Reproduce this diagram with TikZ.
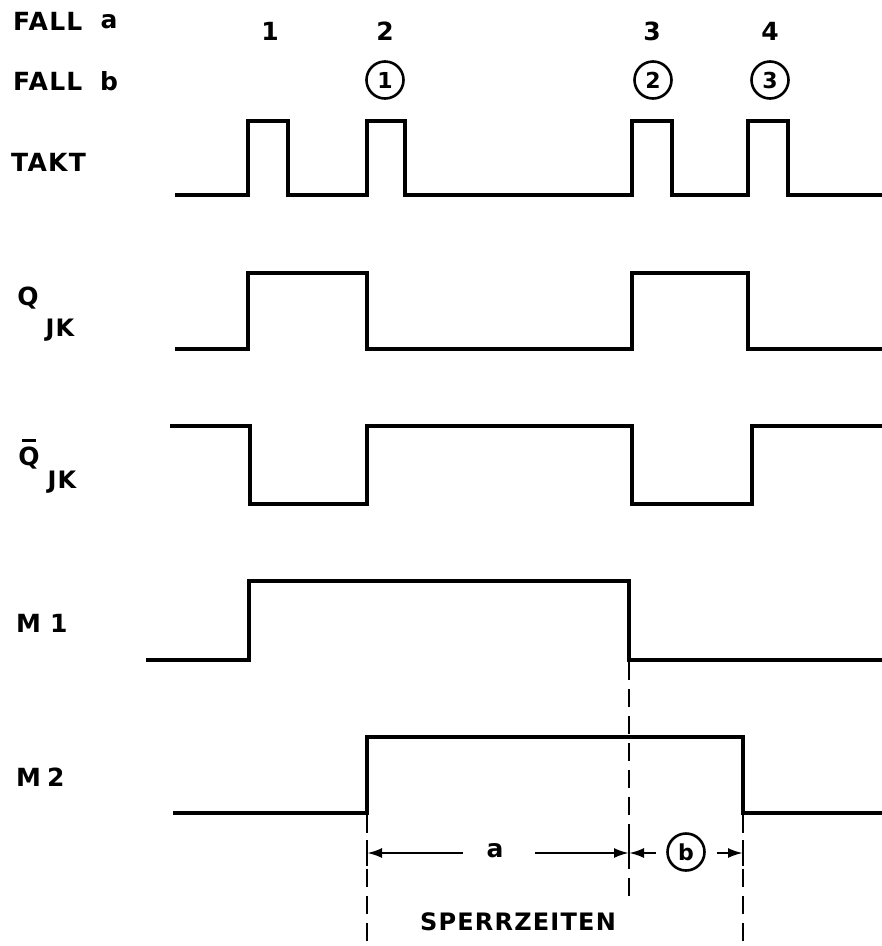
\documentclass[tikz,border=0pt]{standalone}
\usepackage{fontspec}
\setmainfont{DejaVu Sans}[LetterSpace=5]
\usetikzlibrary{arrows.meta}
\begin{document}
\begin{tikzpicture}[x=1pt,y=-1pt,
  wave/.style={line width=3.8pt, line join=miter},
  guide/.style={line width=2.6pt, dash pattern=on 18pt off 9pt},
  lbl/.style={font=\bfseries\fontsize{25}{29}\selectfont, inner sep=0pt},
  sublbl/.style={font=\bfseries\fontsize{24}{28}\selectfont, inner sep=0pt},
  circ/.style={circle, draw, line width=2.6pt, minimum size=37pt, inner sep=0pt, font=\bfseries\fontsize{22}{26}\selectfont},
  dimarrow/.style={line width=2.4pt, -{Latex[length=15pt,width=10pt]}},
  tick/.style={line width=2.6pt},
  ]
\useasboundingbox (0,0) rectangle (882,946);

% --- header labels
\node[lbl, anchor=west] (falla) at (13,21) {FALL};
\node[lbl] (fallaa) at (109,22) {a};
\node[lbl, anchor=west] (fallb) at (13,81) {FALL};
\node[lbl] (fallbb) at (109,81) {b};
\node[lbl] (n1) at (270,31) {1};
\node[lbl] (n2) at (385,31) {2};
\node[lbl] (n3) at (652,31) {3};
\node[lbl] (n4) at (770,31) {4};
\node[circ] (c1) at (385,80) {1};
\node[circ] (c2) at (653,80) {2};
\node[circ] (c3) at (770,80) {3};

% --- signal labels
\node[lbl, anchor=west] (takt) at (11,162) {TAKT};
\node[lbl] (q) at (28,298) {Q};
\node[sublbl] (qjk) at (60,330) {JK};
\node[lbl] (qb) at (29,458) {Q};
\draw[line width=3pt] ([xshift=4pt,yshift=6pt]qb.north west) -- ([xshift=-4pt,yshift=6pt]qb.north east);
\node[sublbl] (qbjk) at (62,482) {JK};
\node[lbl, anchor=west] (m1) at (16,623) {M\hspace{9pt}1};
\node[lbl, anchor=west] (m2) at (16,777) {M\hspace{6pt}2};

% --- waveforms
\draw[wave] (175,195) -- (248,195) -- (248,121) -- (288,121) -- (288,195)
  -- (367,195) -- (367,121) -- (405,121) -- (405,195)
  -- (632,195) -- (632,121) -- (672,121) -- (672,195)
  -- (748,195) -- (748,121) -- (788,121) -- (788,195) -- (882,195);
\draw[wave] (175,349) -- (248,349) -- (248,273) -- (367,273) -- (367,349)
  -- (632,349) -- (632,273) -- (748,273) -- (748,349) -- (882,349);
\draw[wave] (170,426) -- (250,426) -- (250,504) -- (367,504) -- (367,426)
  -- (632,426) -- (632,504) -- (752,504) -- (752,426) -- (882,426);
\draw[wave] (146,660) -- (249,660) -- (249,581) -- (629,581) -- (629,660) -- (882,660);
\draw[wave] (173,813) -- (367,813) -- (367,737) -- (743,737) -- (743,813) -- (882,813);

% --- guide lines
\coordinate (g1t) at (367,815);
\coordinate (g1b) at (367,946);
\coordinate (g2t) at (629,662);
\coordinate (g2b) at (629,898);
\coordinate (g3t) at (743,815);
\coordinate (g3b) at (743,946);
\draw[guide] (g1t) -- (g1b);
\draw[guide] (g2t) -- (g2b);
\draw[guide] (g3t) -- (g3b);
\draw[tick] (367,840) -- (367,866);
\draw[tick] (629,840) -- (629,866);
\draw[tick] (743,840) -- (743,866);

% --- dimensions
\coordinate (d1) at (367,853);
\coordinate (d2) at (629,853);
\coordinate (d3) at (743,853);
\coordinate (a1) at (463,853);
\coordinate (a2) at (535,853);
\coordinate (b1) at (656,853);
\coordinate (b2) at (717,853);
\node[lbl] (la) at (495,851) {a};
\node[circ] (lb) at (686,852) {b};
\draw[dimarrow] (a1) -- (d1);
\draw[dimarrow] (a2) -- (d2);
\draw[dimarrow] (b1) -- (d2);
\draw[dimarrow] (b2) -- (d3);
\node[font=\bfseries\fontsize{24}{28}\selectfont, inner sep=0pt] (sperr) at (518,922) {SPERRZEITEN};
\end{tikzpicture}
\end{document}
